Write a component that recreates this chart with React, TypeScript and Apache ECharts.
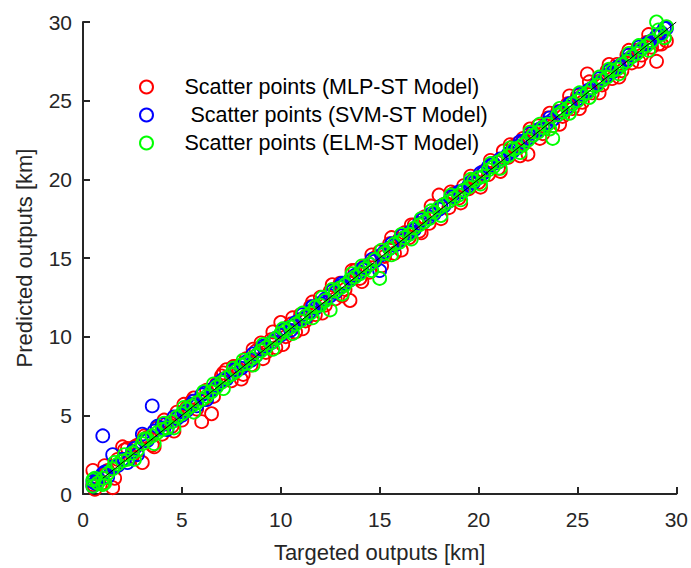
import React, { useEffect, useRef } from "react";
import * as echarts from "echarts";

const targets = [
  0.5, 0.5, 0.75, 1, 1, 1.25, 1.5, 1.75, 2, 2.25, 2.5, 2.75, 3, 3.25, 3.5, 3.75, 4, 4.25, 4.5, 4.75,
  5, 5.25, 5.5, 5.75, 6, 6.25, 6.5, 6.75, 7, 7.25, 7.5, 7.75, 8, 8.25, 8.5, 8.75, 9, 9.25, 9.5, 9.75,
  10, 10.25, 10.5, 10.75, 11, 11.25, 11.5, 11.75, 12, 12.25, 12.5, 12.75, 13, 13.25, 13.5, 13.75, 14, 14.25, 14.5, 14.75,
  15, 15.25, 15.5, 15.75, 16, 16.25, 16.5, 16.75, 17, 17.25, 17.5, 17.75, 18, 18.25, 18.5, 18.75, 19, 19.25, 19.5, 19.75,
  20, 20.25, 20.5, 20.75, 21, 21.25, 21.5, 21.75, 22, 22.25, 22.5, 22.75, 23, 23.25, 23.5, 23.75, 24, 24.25, 24.5, 24.75,
  25, 25.25, 25.5, 25.75, 26, 26.25, 26.5, 26.75, 27, 27.25, 27.5, 27.75, 28, 28.25, 28.5, 28.75, 29, 29.25, 29.5,
];

const mlpPred = [
  1.5, 0.6, 0.9, 1.2, 0.7, 1.5, 0.4, 2.2, 3.0, 2.9, 2.4, 3.1, 2.0, 3.6, 3.1, 4.2, 3.8, 4.5, 4.3, 5.2,
  4.7, 5.5, 5.9, 5.4, 4.6, 6.6, 5.1, 7.0, 7.5, 7.9, 7.2, 8.1, 7.3, 8.6, 8.2, 9.1, 9.6, 9.0, 9.8, 9.3,
  10.9, 10.0, 10.8, 10.3, 11.4, 11.0, 11.9, 11.4, 12.5, 12.0, 12.9, 12.4, 13.4, 13.0, 12.3, 14.2, 13.7, 14.5, 14.1, 15.0,
  15.4, 15.1, 15.9, 15.3, 16.2, 16.6, 16.3, 17.1, 16.7, 17.6, 17.2, 17.9, 19.0, 18.4, 18.2, 19.1, 18.8, 19.6, 19.4, 20.0,
  19.8, 20.5, 20.3, 21.0, 20.7, 21.8, 21.4, 22.1, 22.3, 22.6, 21.6, 23.0, 23.4, 22.9, 23.9, 23.4, 24.3, 24.0, 24.8, 24.5,
  25.3, 24.9, 26.7, 25.5, 26.2, 26.0, 26.9, 26.4, 27.3, 26.9, 27.9, 27.4, 28.2, 27.9, 28.7, 28.4, 27.5, 28.6, 28.8,
];

const svmPred = [
  0.8, 0.5, 1.0, 3.7, 1.3, 1.1, 2.5, 1.8, 2.2, 2.0, 2.7, 2.5, 3.8, 3.4, 5.6, 4.3, 4.4, 4.1, 4.6, 4.8,
  5.0, 5.3, 5.7, 5.6, 6.3, 6.0, 6.6, 6.9, 7.2, 7.3, 7.6, 7.9, 8.0, 8.4, 8.5, 8.8, 9.2, 9.4, 9.6, 9.9,
  10.1, 10.5, 10.4, 10.9, 11.1, 11.2, 11.6, 11.8, 12.1, 12.4, 12.6, 12.8, 13.2, 13.4, 13.6, 13.9, 14.1, 14.4, 14.6, 14.8,
  14.2, 15.4, 15.6, 15.8, 16.1, 16.3, 16.6, 16.8, 17.2, 17.3, 17.6, 17.8, 18.1, 18.3, 18.6, 18.9, 19.2, 19.3, 19.6, 19.8,
  20.1, 20.4, 20.8, 21.0, 21.1, 21.3, 21.6, 21.8, 22.1, 22.4, 22.6, 22.8, 23.1, 23.3, 23.6, 23.8, 24.1, 24.3, 24.6, 24.8,
  25.1, 25.3, 25.6, 25.8, 26.1, 26.3, 26.6, 26.8, 27.1, 27.3, 27.6, 27.8, 28.1, 28.3, 28.6, 28.8, 29.1, 29.3, 29.6,
];

const elmPred = [
  0.5, 0.9, 0.7, 1.0, 0.6, 1.3, 1.6, 1.9, 2.1, 2.2, 2.6, 2.8, 3.2, 3.5, 3.7, 3.9, 4.1, 4.2, 4.6, 4.9,
  5.1, 5.4, 5.6, 5.8, 6.0, 6.2, 6.5, 6.8, 7.1, 7.4, 7.6, 7.8, 8.2, 8.3, 8.6, 8.8, 9.1, 9.3, 9.6, 9.9,
  10.2, 10.4, 10.6, 10.8, 11.0, 11.3, 11.5, 11.9, 12.0, 12.3, 11.7, 12.9, 13.1, 13.3, 13.6, 13.8, 14.0, 14.3, 14.6, 14.9,
  13.7, 15.3, 15.6, 15.9, 16.0, 16.3, 16.5, 16.9, 17.1, 17.3, 17.5, 17.9, 18.2, 18.4, 18.6, 18.8, 19.0, 19.3, 19.5, 19.9,
  20.1, 20.2, 20.6, 20.8, 21.1, 21.3, 21.5, 21.9, 22.0, 22.2, 22.5, 22.8, 23.0, 23.3, 23.5, 22.6, 24.1, 24.3, 24.5, 24.8,
  25.0, 25.3, 25.5, 25.8, 26.0, 26.3, 26.5, 26.9, 27.0, 27.3, 27.5, 27.8, 28.0, 28.3, 28.5, 28.8, 30.0, 29.2, 29.7,
];

const targets2 = [
  0.6, 1.1, 1.6, 2.1, 2.6, 3.1, 3.6, 4.1, 4.6, 5.1,
  5.6, 6.1, 6.6, 7.1, 7.6, 8.1, 8.6, 9.1, 9.6, 10.1,
  10.6, 11.1, 11.6, 12.1, 12.6, 13.1, 13.6, 14.1, 14.6, 15.1,
  15.6, 16.1, 16.6, 17.1, 17.6, 18.1, 18.6, 19.1, 19.6, 20.1,
  20.6, 21.1, 21.6, 22.1, 22.6, 23.1, 23.6, 24.1, 24.6, 25.1,
  25.6, 26.1, 26.6, 27.1, 27.6, 28.1, 28.6, 29.1, 29.4,
];

const mlpPred2 = [
  0.3, 1.8, 1.0, 2.8, 3.0, 3.7, 3.0, 4.7, 4.0, 5.7,
  6.1, 6.0, 6.2, 7.7, 8.1, 7.6, 9.2, 8.6, 10.3, 9.5,
  11.2, 10.5, 12.2, 11.5, 13.3, 12.6, 14.2, 13.5, 15.2, 14.5,
  16.3, 15.5, 17.1, 16.6, 18.3, 17.5, 19.2, 18.5, 20.2, 19.5,
  21.2, 20.5, 22.2, 21.5, 23.2, 22.6, 24.2, 23.5, 25.3, 24.5,
  26.2, 25.5, 27.3, 26.5, 28.2, 27.5, 29.2, 28.6, 29.0,
];

const svmPred2 = [
  0.7, 1.4, 1.7, 2.2, 2.9, 3.4, 4.0, 4.2, 4.9, 5.2,
  5.9, 6.4, 6.7, 7.3, 7.9, 8.2, 8.9, 9.4, 9.7, 10.4,
  10.7, 11.4, 11.9, 12.2, 12.9, 13.4, 13.7, 14.3, 14.9, 15.2,
  15.9, 16.4, 16.7, 17.4, 17.8, 18.3, 18.9, 19.2, 19.8, 20.4,
  20.9, 21.3, 21.7, 22.4, 22.9, 23.2, 23.9, 24.3, 24.8, 25.4,
  25.7, 26.4, 26.9, 27.2, 27.9, 28.4, 28.7, 29.2, 29.6,
];

const elmPred2 = [
  1.0, 0.7, 2.0, 2.5, 2.2, 3.5, 3.2, 4.5, 4.2, 5.5,
  5.2, 6.5, 7.0, 6.7, 8.0, 8.5, 8.2, 9.5, 9.2, 10.5,
  10.2, 11.5, 11.2, 12.5, 13.0, 12.7, 14.0, 14.5, 14.2, 15.5,
  15.2, 16.5, 16.2, 17.5, 18.0, 17.7, 19.0, 18.7, 20.0, 19.7,
  21.0, 20.7, 22.0, 21.7, 23.0, 23.5, 23.2, 24.5, 24.2, 25.5,
  25.2, 26.5, 27.0, 26.7, 28.0, 28.5, 28.2, 29.5, 29.0,
];

const fitLineX = [1, 30];
const fitLineY = [1, 30];

const seriesNames = [
  "Scatter points (MLP-ST Model)",
  "\u00a0Scatter points (SVM-ST Model)",
  "Scatter points (ELM-ST Model)",
];
const seriesColors = ["#ff0000", "#0000ff", "#00ff00"];
const xTicks = [0, 5, 10, 15, 20, 25, 30];

const FONT = "'Liberation Sans', Arial, Helvetica, sans-serif";

export default function App() {
  const ref = useRef<HTMLDivElement>(null);
  useEffect(() => {
    if (!ref.current) return;
    const chart = echarts.init(ref.current, undefined, { renderer: "svg" });
    const preds = [mlpPred, svmPred, elmPred];
    const preds2 = [mlpPred2, svmPred2, elmPred2];
    const axisCommon = {
      min: xTicks[0],
      max: xTicks[xTicks.length - 1],
      interval: 5,
      axisLine: { show: true, lineStyle: { color: "#262626", width: 2 } },
      axisTick: { show: true, inside: true, length: 7, lineStyle: { color: "#262626", width: 2 } },
      splitLine: { show: false },
      nameLocation: "middle" as const,
      nameTextStyle: { fontFamily: FONT, fontSize: 22, color: "#262626" },
    };
    chart.setOption({
      animation: false,
      backgroundColor: "#ffffff",
      grid: { left: 83, right: 14, top: 22, bottom: 71, containLabel: false },
      legend: {
        orient: "vertical",
        left: 134,
        top: 71,
        itemWidth: 66,
        itemHeight: 13,
        itemGap: 6,
        icon: "circle",
        selectedMode: false,
        data: seriesNames,
        textStyle: { fontFamily: FONT, fontSize: 21.5, color: "#000000", lineHeight: 20 },
      },
      xAxis: {
        ...axisCommon,
        type: "value",
        name: "Targeted outputs [km]",
        nameGap: 47,
        axisLabel: { fontFamily: FONT, fontSize: 21, color: "#262626", margin: 15 },
      },
      yAxis: {
        ...axisCommon,
        type: "value",
        name: "Predicted outputs [km]",
        nameGap: 48,
        axisLabel: { fontFamily: FONT, fontSize: 21, color: "#262626", margin: 11 },
      },
      series: [
        ...preds.map((p, i) => ({
          name: seriesNames[i],
          type: "scatter",
          symbol: "circle",
          symbolSize: 13,
          data: targets
            .map((t, j) => [t, p[j]])
            .concat(targets2.map((t, j) => [t, preds2[i][j]])),
          itemStyle: { color: "rgba(0,0,0,0)", borderColor: seriesColors[i], borderWidth: 1.8, opacity: 1 },
          emphasis: { disabled: true },
        })),
        {
          name: "fit",
          type: "line",
          data: fitLineX.map((x, j) => [x, fitLineY[j]]),
          symbol: "none",
          lineStyle: { color: "#000000", width: 1 },
          silent: true,
          z: 5,
        },
      ],
    });
    return () => chart.dispose();
  }, []);
  return (
    <div
      ref={ref}
      style={{ position: "absolute", left: 0, top: 0, width: 691, height: 568 }}
    />
  );
}
